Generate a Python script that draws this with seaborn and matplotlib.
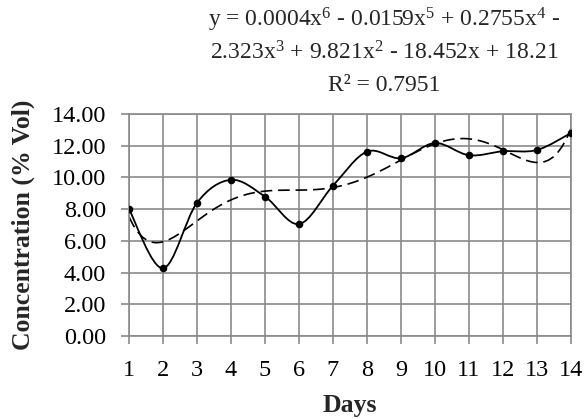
import numpy as np
import pandas as pd
import matplotlib
matplotlib.use("Agg")
import matplotlib.pyplot as plt
from matplotlib.path import Path
from matplotlib.patches import PathPatch
import seaborn as sns

days = [1, 2, 3, 4, 5, 6, 7, 8, 9, 10, 11, 12, 13, 14]
concentration = [8.00, 4.27, 8.40, 9.85, 8.79, 7.06, 9.48, 11.63, 11.21, 12.17, 11.40, 11.65, 11.73, 12.80]
y_ticks = [0, 2, 4, 6, 8, 10, 12, 14]
title_lines = [
    r"y = 0.0004x$^{6}$ - 0.0159x$^{5}$ + 0.2755x$^{4}$ -",
    r"2.323x$^{3}$ + 9.821x$^{2}$ - 18.452x + 18.21",
    "R² = 0.7951",
]
x_label = "Days"
y_label = "Concentration (% Vol)"

sns.set_theme(style="white")
plt.rcParams["font.family"] = ["Liberation Serif", "DejaVu Serif"]
plt.rcParams["mathtext.fontset"] = "custom"
plt.rcParams["mathtext.rm"] = "Liberation Serif"
plt.rcParams["mathtext.it"] = "Liberation Serif"
plt.rcParams["mathtext.bf"] = "Liberation Serif:bold"

FS_TITLE = 17
FS_TICK = 17.5
FS_LABEL = 18.5
GRID = "#8a8a8a"

df = pd.DataFrame({"day": days, "conc": concentration})

fig = plt.figure(figsize=(5.85, 4.19), dpi=100)
ax = fig.add_axes([129 / 585, 1 - 336 / 419, 442 / 585, 222 / 419])

# polynomial (order 6) trendline
sns.regplot(data=df, x="day", y="conc", order=6, ci=None, scatter=False, ax=ax,
            truncate=True,
            line_kws=dict(color="black", lw=1.2, linestyle=(0, (7, 3.5))))

# smoothed line through points (Catmull-Rom style Bezier)
x = np.asarray(days, float)
y = np.asarray(concentration, float)
verts = [(x[0], y[0])]
codes = [Path.MOVETO]
n = len(x)
for i in range(n - 1):
    p0 = np.array([x[max(i - 1, 0)], y[max(i - 1, 0)]])
    p1 = np.array([x[i], y[i]])
    p2 = np.array([x[i + 1], y[i + 1]])
    p3 = np.array([x[min(i + 2, n - 1)], y[min(i + 2, n - 1)]])
    c1 = p1 + (p2 - p0) / 6.0
    c2 = p2 - (p3 - p1) / 6.0
    verts += [tuple(c1), tuple(c2), tuple(p2)]
    codes += [Path.CURVE4] * 3
ax.add_patch(PathPatch(Path(verts, codes), facecolor="none", edgecolor="black", lw=1.3, zorder=3))

sns.scatterplot(data=df, x="day", y="conc", ax=ax, color="black", s=30,
                edgecolor="black", linewidth=0, zorder=4)

ax.set_xlim(1, 14)
ax.set_ylim(0, 14)
ax.set_xticks(days)
ax.set_xticklabels([str(d) for d in days])
ax.set_yticks(y_ticks)
ax.set_yticklabels([f"{v:.2f}" for v in y_ticks])
ax.grid(True, color=GRID, lw=1.2)
ax.set_axisbelow(True)
for s in ax.spines.values():
    s.set_color(GRID)
    s.set_linewidth(1.2)
ax.tick_params(axis="both", which="major", direction="out", color=GRID, width=1.2,
               length=5.5, labelsize=FS_TICK, labelcolor="black")
ax.tick_params(axis="y", pad=11)
ax.tick_params(axis="x", pad=12)
ax.tick_params(bottom=True, left=True)

ax.set_xlabel(x_label, fontsize=FS_LABEL, fontweight="bold", labelpad=9)
ax.set_ylabel(y_label, fontsize=FS_LABEL, fontweight="bold", labelpad=12)

baselines = [26, 59, 91]
for line, b in zip(title_lines, baselines):
    fig.text(384 / 585, 1 - b / 419, line, ha="center", va="baseline", fontsize=FS_TITLE)

fig.savefig("out.png", dpi=100)
